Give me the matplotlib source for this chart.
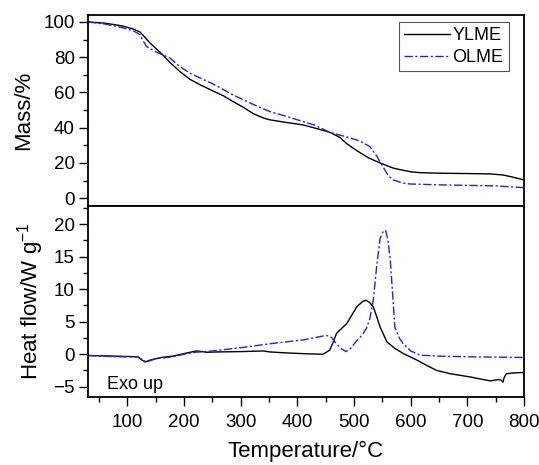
import numpy as np
import matplotlib
matplotlib.use('Agg')
import matplotlib.pyplot as plt
from matplotlib.ticker import MultipleLocator

plt.rcParams['font.family'] = ['Liberation Sans', 'DejaVu Sans']
plt.rcParams['mathtext.fontset'] = 'custom'
plt.rcParams['mathtext.rm'] = 'Liberation Sans'
plt.rcParams['mathtext.it'] = 'Liberation Sans:italic'

# TG - massa (%)
t_ylme_m = [30, 60, 90, 110, 122, 130, 140, 150, 162, 175, 192, 210, 228, 250, 270, 286, 305, 322,
            340, 351, 380, 410, 440, 458, 475, 487, 505, 525, 546, 570, 600, 617, 650, 700, 740,
            763, 780, 800]
m_ylme = [100, 99.3, 97.8, 96, 94.3, 91.5, 88, 85, 81.4, 77, 72, 67.5, 64.4, 61, 58, 54.9, 51.5, 48,
          45.5, 44.5, 43, 41.6, 39, 37.3, 34.5, 31, 27, 23, 20, 17, 15, 14.5, 14.2, 14, 13.8,
          13.2, 12, 10.4]

t_olme_m = [30, 60, 90, 110, 122, 128, 134, 150, 175, 192, 210, 228, 250, 286, 320, 351, 380, 410,
            430, 458, 490, 510, 528, 540, 551, 560, 569, 585, 598, 650, 700, 750, 800]
m_olme = [100, 98.8, 96.8, 95, 92.8, 89, 86, 83, 79.5, 74.8, 71, 68.2, 65, 58.7, 53.5, 49.2, 46.5,
          43.5, 41.5, 37.3, 34.5, 32.5, 29.3, 24, 18, 13, 10.4, 8.7, 8.1, 7.6, 7.3, 7, 6]

# DSC - fluxo de calor (W/g)
t_ylme_h = [30, 80, 118, 124, 131, 140, 160, 180, 200, 222, 240, 260, 300, 340, 351, 380, 420, 445,
            457, 463, 469, 487, 505, 515, 521, 527, 534, 540, 546, 558, 572, 587, 611, 630, 646,
            670, 705, 740, 755, 760, 763, 765, 769, 780, 800]
h_ylme = [-0.2, -0.3, -0.4, -0.8, -1.2, -0.9, -0.5, -0.3, 0.1, 0.5, 0.3, 0.35, 0.4, 0.5, 0.35, 0.2,
          0.05, 0.0, 0.6, 1.8, 3.2, 4.7, 7.3, 8.1, 8.3, 8.0, 7.3, 5.8, 4.2, 1.9, 0.9, 0.1, -0.9,
          -1.8, -2.5, -3.0, -3.5, -4.1, -3.9, -4.0, -4.3, -3.6, -3.0, -2.9, -2.8]

t_olme_h = [30, 80, 118, 133, 150, 180, 200, 220, 250, 300, 351, 410, 440, 451, 460, 469, 478, 486,
            494, 505, 515, 522, 528, 534, 540, 546, 552, 556, 560, 564, 568, 572, 580, 587, 600,
            617, 650, 700, 800]
h_olme = [-0.2, -0.4, -0.4, -1.2, -0.7, -0.4, 0.0, 0.3, 0.5, 1.0, 1.6, 2.2, 2.7, 2.9, 2.6, 1.6, 0.8,
          0.4, 0.9, 2.1, 3.0, 4.0, 5.5, 8.3, 13.5, 17.8, 19.0, 19.0, 17.5, 14.5, 9.5, 4.2, 2.5,
          1.6, 0.5, -0.15, -0.3, -0.4, -0.5]

azul = '#1f1fff'
traco = (0, (6, 1.8, 1.5, 1.8))

fig = plt.figure(figsize=(5.39, 4.65), dpi=100)
ax1 = fig.add_axes([0.163, 0.557, 0.809, 0.411])
ax2 = fig.add_axes([0.163, 0.146, 0.809, 0.411])

ax1.plot(t_ylme_m, m_ylme, color='black', lw=1.0, label='YLME')
ax1.plot(t_olme_m, m_olme, color=azul, lw=1.0, linestyle=traco, label='OLME')
ax2.plot(t_ylme_h, h_ylme, color='black', lw=1.0)
ax2.plot(t_olme_h, h_olme, color=azul, lw=1.0, linestyle=traco)

for ax in (ax1, ax2):
    ax.set_xlim(30, 800)
    for s in ax.spines.values():
        s.set_linewidth(1.3)
    ax.tick_params(axis='both', which='major', direction='out', length=6.5, width=1.0,
                   labelsize=13.5, pad=3, top=False, right=False)
    ax.tick_params(axis='both', which='minor', direction='out', length=3.5, width=1.0,
                   top=False, right=False)
    ax.tick_params(axis='x', pad=6)
    ax.xaxis.set_major_locator(MultipleLocator(100))
    ax.xaxis.set_minor_locator(MultipleLocator(50))

ax1.set_ylim(-4.4, 104)
ax1.yaxis.set_major_locator(MultipleLocator(20))
ax1.yaxis.set_minor_locator(MultipleLocator(10))
ax1.tick_params(axis='x', which='both', bottom=False, labelbottom=False)
ax1.set_ylabel('Mass/%', fontsize=16)
ax1.yaxis.set_label_coords(-0.1225, 0.5)
ax1.legend(loc='upper right', fontsize=13, frameon=True, fancybox=False, edgecolor='#555555',
           framealpha=1, handlelength=2.5, handletextpad=0.15, borderpad=0.3,
           labelspacing=0.25, borderaxespad=0, bbox_to_anchor=(0.965, 0.963))
ax1.get_legend().get_frame().set_linewidth(0.8)

ax2.set_ylim(-6.6, 22.8)
ax2.yaxis.set_major_locator(MultipleLocator(5))
ax2.yaxis.set_minor_locator(MultipleLocator(2.5))
ax2.set_ylabel(r'Heat flow/W g$^{-1}$', fontsize=16)
ax2.yaxis.set_label_coords(-0.097, 0.5)
ax2.set_xlabel('Temperature/°C', fontsize=16, labelpad=7)
ax2.text(63, -4.7, 'Exo up', fontsize=13, va='center')

plt.savefig('out.png', dpi=100)
